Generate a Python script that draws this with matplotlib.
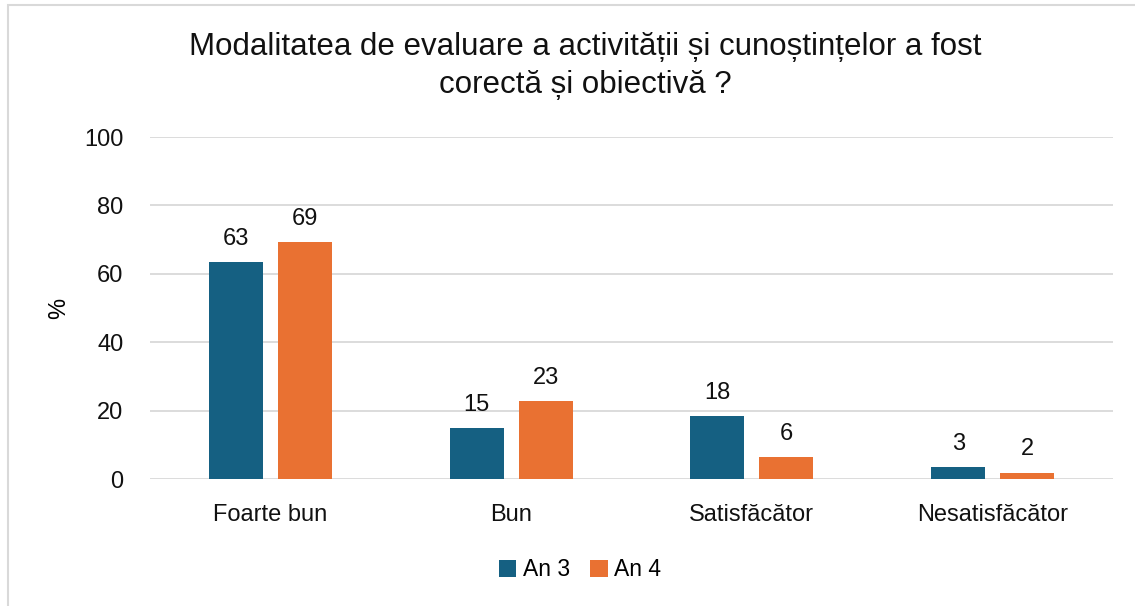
import matplotlib.pyplot as plt
import matplotlib.patches as mpatches
import numpy as np

# Data
categories = ["Foarte bun", "Bun", "Satisfăcător", "Nesatisfăcător"]
an3 = [63.4, 14.9, 18.4, 3.4]
an4 = [69.2, 22.8, 6.3, 1.8]
series_names = ["An 3", "An 4"]

BLUE = "#156082"
ORANGE = "#E97132"
GRID = "#D9D9D9"
FS = 17

plt.rcParams['font.family'] = ['Liberation Sans', 'DejaVu Sans']

fig = plt.figure(figsize=(11.35, 6.06), dpi=100)
ax = fig.add_axes([150 / 1135, 1 - 479 / 606, (1113 - 150) / 1135, (479 - 137) / 606])

x = np.arange(len(categories))
w = 0.224
off = 0.143
b1 = ax.bar(x - off, an3, w, color=BLUE, label=series_names[0], zorder=3)
b2 = ax.bar(x + off, an4, w, color=ORANGE, label=series_names[1], zorder=3)

for bars in (b1, b2):
    for r in bars:
        ax.annotate(f"{r.get_height():.0f}", (r.get_x() + r.get_width() / 2, r.get_height()),
                    xytext=(0, 9), textcoords="offset points", ha="center", va="bottom",
                    fontsize=FS, color="#111111")

ax.set_xlim(-0.5, 3.5)
ax.set_ylim(0, 100)
ax.set_yticks(range(0, 101, 20))
ax.set_xticks(x)
ax.set_xticklabels(categories)
ax.tick_params(axis="both", length=0, labelsize=FS, colors="#111111")
ax.tick_params(axis="x", pad=18)
ax.tick_params(axis="y", pad=19)
ax.grid(axis="y", color=GRID, linewidth=1.3, zorder=0)
for s in ax.spines.values():
    s.set_visible(False)
ax.set_ylabel("%", fontsize=FS)
ax.yaxis.set_label_coords(-0.083, 0.5)

fig.text(585 / 1135, 1 - 66 / 606,
         "Modalitatea de evaluare a activității și cunoștințelor a fost\ncorectă și obiectivă ?",
         ha="center", va="center", fontsize=22.5, linespacing=1.35, color="#111111")

fig.legend(loc="center", bbox_to_anchor=(580 / 1135, 1 - 570 / 606), ncol=2, frameon=False,
           fontsize=16.5, handlelength=0.75, handleheight=0.75, handletextpad=0.3, columnspacing=0.9)

# chart border
fig.patches.append(mpatches.Rectangle((8 / 1135, -0.01), 1.1, 1 - 5 / 606 + 0.01,
                                      transform=fig.transFigure, fill=False,
                                      edgecolor=GRID, linewidth=1.5))

fig.savefig("out.png", dpi=100)
